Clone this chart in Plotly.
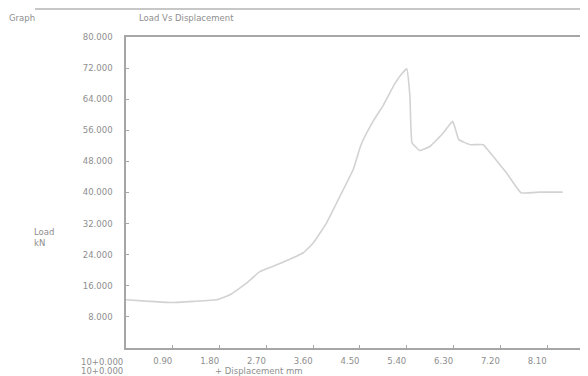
import plotly.graph_objects as go

# Data (displacement mm, load kN)
displacement = [0.00, 0.45, 0.85, 1.30, 1.74, 2.00, 2.32, 2.58, 2.90, 3.41, 3.60,
                3.85, 4.05, 4.37, 4.50, 4.56, 4.76, 4.95, 5.17, 5.30, 5.40, 5.46,
                5.50, 5.65, 5.85, 6.10, 6.28, 6.32, 6.40, 6.62, 6.87, 7.06, 7.32,
                7.60, 7.96, 8.40]
load = [12.4, 12.0, 11.7, 12.0, 12.4, 13.7, 16.7, 19.7, 21.4, 24.5, 27.0,
        32.0, 37.3, 45.9, 51.5, 53.5, 58.5, 62.5, 68.0, 70.5, 71.8, 64.8,
        52.8, 50.8, 51.9, 55.3, 58.3, 57.0, 53.6, 52.3, 52.3, 49.3, 45.0,
        39.9, 40.1, 40.1]

y_ticks = [8, 16, 24, 32, 40, 48, 56, 64, 72, 80]
y_labels = ["8.000", "16.000", "24.000", "32.000", "40.000", "48.000",
            "56.000", "64.000", "72.000", "80.000"]
x_ticks = [0.9, 1.8, 2.7, 3.6, 4.5, 5.4, 6.3, 7.2, 8.1]
x_labels = ["0.90", "1.80", "2.70", "3.60", "4.50", "5.40", "6.30", "7.20", "8.10"]

TXT = "#8e8e8e"
FONT = "DejaVu Sans"
FS = 8.5

def ann(text, x, y, xanchor="left", align="left"):
    return dict(text=text, xref="paper", yref="paper", x=x, y=y,
                xanchor=xanchor, yanchor="middle", align=align, showarrow=False,
                font=dict(size=FS, color=TXT, family=FONT))

fig = go.Figure()
fig.add_trace(go.Scatter(x=displacement, y=load, mode="lines",
                         line=dict(color="#d2d2d2", width=1.6, shape="spline", smoothing=0.3),
                         hoverinfo="skip", showlegend=False))

fig.update_layout(
    width=580, height=368,
    margin=dict(l=118, r=0, t=29, b=28),
    paper_bgcolor="white", plot_bgcolor="white",
    font=dict(family=FONT, size=FS, color=TXT),
    xaxis=dict(range=[0, 8.885], tickvals=x_ticks, ticktext=x_labels,
               showgrid=False, zeroline=False, showline=True, linecolor="#a6a6a6",
               linewidth=1.5, mirror=True, ticks="inside", ticklen=3,
               tickcolor="#a6a6a6", ticklabelshift=-10, ticklabelstandoff=4,
               tickfont=dict(size=FS, color=TXT)),
    yaxis=dict(range=[0, 80], tickvals=y_ticks, ticktext=y_labels,
               showgrid=False, zeroline=False, showline=True, linecolor="#a6a6a6",
               linewidth=1.5, ticks="inside", ticklen=3, tickcolor="#a6a6a6",
               ticklabelstandoff=10, tickfont=dict(size=FS, color=TXT)),
    shapes=[dict(type="line", xref="paper", yref="paper", x0=-0.197, x1=1.0,
                 y0=1 + 28 / 311, y1=1 + 28 / 311,
                 line=dict(color="#b4b4b4", width=1.5))],
    annotations=[
        ann("Graph", -0.225, 330 / 311, xanchor="center"),
        ann("Load Vs Displacement", 0.024, 330 / 311),
        ann("Load<br>kN", -0.2035, 0.354),
        ann("10+0.000", -0.002, -14 / 311, xanchor="right"),
        ann("10+0.000", -0.002, -23 / 311, xanchor="right"),
        ann("+ Displacement mm", 0.188, -23 / 311),
    ],
)

fig.write_html("out.html")
